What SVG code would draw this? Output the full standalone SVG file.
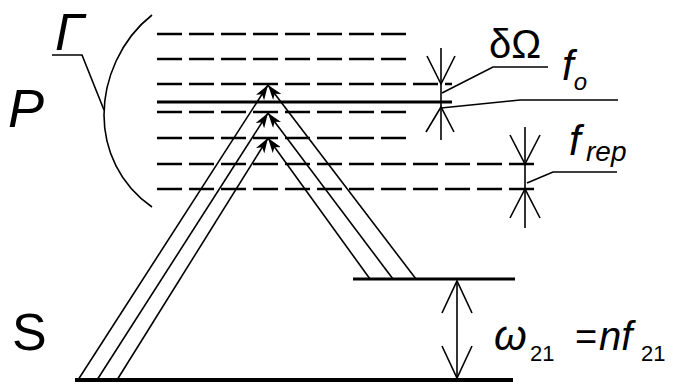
<svg xmlns="http://www.w3.org/2000/svg" width="679" height="384" viewBox="0 0 679 384">
<defs>
<style>
.lvl{stroke:#000;stroke-width:2.4;stroke-dasharray:25 7;fill:none}
.solid{stroke:#000;fill:none}
.beam{stroke:#000;stroke-width:1.6;fill:none;marker-end:url(#ah)}
.thin{stroke:#000;stroke-width:1.6;fill:none}
.t{font-family:"Liberation Sans",Arial,sans-serif;fill:#000}
.i{font-style:italic}
</style>
<marker id="ah" viewBox="0 0 15 10" refX="15" refY="5" markerWidth="15" markerHeight="10" markerUnits="userSpaceOnUse" orient="auto">
<path d="M0,0 L15,5 L0,10 L4,5 z" fill="#000"/>
</marker>
</defs>
<rect width="679" height="384" fill="#fff"/>

<g id="levels-P">
<line class="lvl" x1="157" y1="34" x2="408" y2="34"/>
<line class="lvl" x1="157" y1="59" x2="408" y2="59"/>
<line class="lvl" x1="157" y1="84" x2="452" y2="84"/>
<line class="solid" stroke-width="3" x1="157" y1="102" x2="452" y2="102"/>
<line class="lvl" x1="157" y1="112" x2="412" y2="112"/>
<line class="lvl" x1="157" y1="138" x2="408" y2="138"/>
<line class="lvl" x1="157" y1="164" x2="538" y2="164"/>
<line class="lvl" x1="157" y1="189" x2="538" y2="189"/>
</g>

<g id="levels-S">
<line class="solid" stroke-width="4" x1="75" y1="380" x2="513" y2="380"/>
<line class="solid" stroke-width="3" x1="353" y1="279" x2="515" y2="279"/>
</g>

<g id="gamma-bracket">
<path class="thin" d="M152,15 C120,40 104,80 104,115 C104,150 120,185 152,207"/>
<path class="thin" d="M52,55 L82,55 L104,110"/>
<text class="t i" x="55" y="50" font-size="52">Γ</text>
</g>

<g id="labels">
<text class="t i" x="8" y="127" font-size="54">P</text>
<text class="t" x="12" y="350" font-size="52">S</text>
</g>

<g id="connectors">
<path class="beam" d="M78,380 L268,85"/>
<path class="beam" d="M416,279 L268,85"/>
<path class="beam" d="M97,380 L268,113"/>
<path class="beam" d="M393,279 L268,113"/>
<path class="beam" d="M117,380 L268,138"/>
<path class="beam" d="M370,279 L268,138"/>
</g>

<g id="dOmega-indicator">
<line class="thin" x1="441" y1="48" x2="441" y2="140"/>
<path class="thin" d="M427,56 L441,84 L455,56"/>
<path class="thin" d="M426,132 L441,107 L454,132"/>
<path class="thin" d="M442,93 L493,67 L548,67"/>
<path class="thin" d="M441,108 L520,100 L618,100"/>
<text class="t" x="489" y="58" font-size="40">δΩ</text>
<text class="t i" x="562" y="80" font-size="42">f<tspan font-size="24" dy="10">o</tspan></text>
</g>

<g id="frep-indicator">
<line class="thin" x1="525" y1="127" x2="525" y2="228"/>
<path class="thin" d="M510,135 L525,164 L540,135"/>
<path class="thin" d="M510,218 L525,189 L540,218"/>
<path class="thin" d="M527,183 L553,172 L617,172"/>
<text class="t i" x="569" y="155" font-size="42">f</text>
<text class="t i" x="586" y="161" font-size="28">rep</text>
</g>

<g id="omega-indicator">
<line class="thin" x1="457" y1="281" x2="457" y2="378"/>
<path class="thin" d="M442,313 L457,281 L472,313"/>
<path class="thin" d="M442,346 L457,378 L472,346"/>
<text class="t i" x="494" y="350" font-size="42">ω</text>
<text class="t" x="530" y="361" font-size="22">21</text>
<text class="t" x="575" y="350" font-size="38">=</text>
<text class="t i" x="599" y="350" font-size="40">nf</text>
<text class="t" x="641" y="361" font-size="22">21</text>
</g>
</svg>
